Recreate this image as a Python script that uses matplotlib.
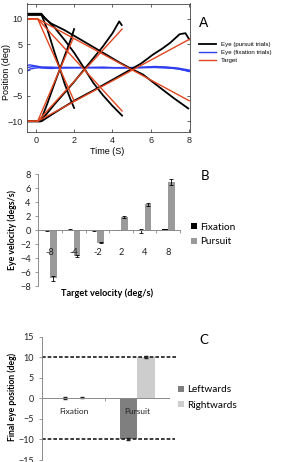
import numpy as np
import matplotlib
matplotlib.use('Agg')
import matplotlib.pyplot as plt
from matplotlib.ticker import FixedLocator

# ---------------- Panel A data ----------------
fix_t = [-0.5, -0.3, 0.0, 0.3, 0.8, 1.5, 2.5, 3.5, 4.5, 5.5, 6.2, 6.8, 7.4, 8.0]
fix1_y = [0.9, 1.0, 0.8, 0.6, 0.5, 0.5, 0.45, 0.5, 0.45, 0.5, 0.7, 0.6, 0.4, 0.0]
fix2_y = [-0.4, 0.2, 0.4, 0.5, 0.55, 0.4, 0.5, 0.4, 0.5, 0.45, 0.5, 0.4, 0.3, -0.3]
fix3_y = [0.4, 0.6, 0.7, 0.4, 0.3, 0.5, 0.5, 0.55, 0.4, 0.55, 0.6, 0.5, 0.2, -0.2]

eye_p8_t = [-0.5, 0.25, 0.6, 1.0, 1.3, 1.6, 1.85, 2.0]
eye_p8_y = [-10.0, -10.0, -6.6, -2.4, 0.6, 3.7, 6.2, 8.0]
eye_m8_t = [-0.5, 0.3, 0.6, 1.0, 1.25, 1.5, 1.8, 2.0]
eye_m8_y = [10.8, 10.8, 8.0, 3.2, 0.4, -2.6, -5.6, -7.4]
eye_p4_t = [-0.5, 0.25, 1.0, 2.0, 2.5, 3.0, 3.5, 4.0, 4.35, 4.48]
eye_p4_y = [-10.0, -10.0, -6.6, -2.3, 0.0, 2.3, 4.6, 7.2, 9.5, 8.8]
eye_m4_t = [-0.5, 0.3, 0.5, 1.0, 1.5, 2.0, 2.5, 3.0, 3.5, 4.0, 4.5]
eye_m4_y = [10.8, 10.8, 10.1, 8.2, 5.9, 3.4, 0.5, -2.5, -4.9, -7.0, -8.9]
eye_p2_t = [-0.5, 0.3, 1.0, 2.0, 3.0, 4.0, 4.9, 5.5, 6.1, 6.6, 7.0, 7.5, 7.8, 8.0]
eye_p2_y = [-10.0, -10.0, -8.3, -6.0, -4.0, -1.9, 0.0, 1.3, 3.0, 4.2, 5.3, 7.0, 7.2, 6.0]
eye_m2_t = [-0.5, 0.3, 0.5, 0.8, 1.5, 2.5, 3.5, 4.4, 4.9, 5.6, 6.5, 7.2, 7.95]
eye_m2_y = [11.0, 11.0, 10.0, 9.1, 7.8, 5.6, 3.4, 1.4, 0.4, -0.9, -3.5, -5.5, -7.5]

tgt_t = [[-0.5, 0.1, 1.93], [-0.5, 0.1, 2.0], [-0.5, 0.1, 4.5],
         [-0.5, 0.1, 4.5], [-0.5, 0.1, 8.0], [-0.5, 0.1, 8.0]]
tgt_y = [[-10, -10, 6.0], [10, 10, -6.0], [-10, -10, 8.0],
         [10, 10, -8.0], [-10, -10, 6.0], [10, 10, -6.0]]

legendA_labels = ['Eye (pursuit trials)', 'Eye (fixation trials)', 'Target']

# ---------------- Panel B data ----------------
vel_labels = ['-8', '-4', '-2', '2', '4', '8']
fix_vel = [-0.1, 0.05, -0.05, -0.02, -0.1, 0.12]
fix_vel_err = [0.05, 0.04, 0.03, 0.03, 0.3, 0.08]
purs_vel = [-6.9, -3.7, -1.8, 1.9, 3.7, 6.9]
purs_vel_err = [0.35, 0.2, 0.1, 0.15, 0.2, 0.4]

# ---------------- Panel C data ----------------
cond_labels = ['Fixation', 'Pursuit']
left_pos = [0.1, -10.0]
left_err = [0.15, 0.25]
right_pos = [0.2, 10.0]
right_err = [0.15, 0.2]
ref_levels = [10, -10]

W, H = 290, 462
fig = plt.figure(figsize=(W / 100, H / 100), dpi=100)


def box(l, t, r, b):
    return [l / W, 1 - b / H, (r - l) / W, (b - t) / H]


# ======================= Panel A =======================
fontA = 'Liberation Sans'
axA = fig.add_axes(box(26.7, 3.5, 190, 132))
blue = '#2f3ff0'
red = '#e2461e'
hbl = None
for yy in (fix1_y, fix2_y, fix3_y):
    hbl, = axA.plot(fix_t, yy, color=blue, lw=1.0)
hb = None
for tt, yy in ((eye_p8_t, eye_p8_y), (eye_m8_t, eye_m8_y), (eye_p4_t, eye_p4_y),
               (eye_m4_t, eye_m4_y), (eye_p2_t, eye_p2_y), (eye_m2_t, eye_m2_y)):
    hb, = axA.plot(tt, yy, color='black', lw=1.3)
hr = None
for tt, yy in zip(tgt_t, tgt_y):
    hr, = axA.plot(tt, yy, color=red, lw=1.0)
axA.set_xlim(-0.47, 8.04)
axA.set_ylim(-12.1, 13.0)
axA.set_xticks([0, 2, 4, 6, 8])
axA.set_yticks([-10, -5, 0, 5, 10])
axA.tick_params(direction='in', top=True, right=True, length=2.5, width=0.5,
                labelsize=6.5, pad=3, colors='#222222')
for lab in axA.get_xticklabels() + axA.get_yticklabels():
    lab.set_family(fontA)
for s in axA.spines.values():
    s.set_color('#444444')
    s.set_linewidth(0.6)
axA.set_xlabel('Time (S)', fontsize=6.5, family=fontA, va='center')
axA.xaxis.set_label_coords(0.492, -0.148)
axA.set_ylabel('Position (deg)', fontsize=6.5, family=fontA, va='center')
axA.yaxis.set_label_coords(-0.121, 0.467)
fig.legend([hb, hbl, hr], legendA_labels, loc='upper left',
           bbox_to_anchor=(199 / W, 1 - 42 / H), frameon=False,
           prop={'family': fontA, 'size': 4.4}, handlelength=2.7,
           handletextpad=0.9, labelspacing=0.45, borderaxespad=0, borderpad=0)
fig.text(203.7 / W, 1 - 23.3 / H, 'A', fontsize=10, family=fontA,
         ha='center', va='center')

# ======================= Panel B =======================
fontB = 'Lato'
axcol = '#8a8a8a'
axB = fig.add_axes(box(38.3, 174, 180, 286))
xb = np.arange(len(vel_labels))
ekw = dict(ecolor='black', elinewidth=0.6, capsize=1.3, capthick=0.6)
axB.bar(xb - 0.14, fix_vel, 0.28, yerr=fix_vel_err, color='black',
        error_kw=ekw, label='Fixation')
axB.bar(xb + 0.14, purs_vel, 0.28, yerr=purs_vel_err, color='#9a9a9a',
        error_kw=ekw, label='Pursuit')
axB.set_xlim(-0.5, len(vel_labels) - 0.5)
axB.set_ylim(-8, 8)
axB.set_yticks(np.arange(-8, 9, 2))
axB.spines['top'].set_visible(False)
axB.spines['right'].set_visible(False)
axB.spines['bottom'].set_position(('data', 0))
for s in ('left', 'bottom'):
    axB.spines[s].set_color(axcol)
    axB.spines[s].set_linewidth(0.7)
axB.set_xticks(xb)
axB.set_xticklabels(vel_labels)
axB.xaxis.set_minor_locator(FixedLocator(np.arange(-0.5, len(vel_labels), 1.0)))
axB.tick_params(axis='x', which='major', length=0, pad=13, labelsize=6.7,
                labelcolor='#222222')
axB.tick_params(axis='x', which='minor', length=2.5, width=0.6, color=axcol,
                direction='out')
axB.tick_params(axis='y', length=2.5, width=0.6, color=axcol, pad=3,
                labelsize=6.7, labelcolor='#222222')
for lab in axB.get_xticklabels() + axB.get_yticklabels():
    lab.set_family(fontB)
axB.set_xlabel('Target velocity (deg/s)', fontsize=6.6, family=fontB,
               fontweight='bold', va='center')
axB.xaxis.set_label_coords(0.485, -0.0625)
axB.set_ylabel('Eye velocity (degs/s)', fontsize=6.3, family=fontB,
               fontweight='bold', va='center')
axB.yaxis.set_label_coords(-0.186, 0.5)
fig.legend(*axB.get_legend_handles_labels(), loc='upper left',
           bbox_to_anchor=(191 / W, 1 - 222.5 / H), frameon=False,
           prop={'family': fontB, 'size': 7.2}, handlelength=0.55,
           handleheight=0.55, handletextpad=0.4, labelspacing=0.6,
           borderaxespad=0, borderpad=0)
fig.text(204.5 / W, 1 - 176 / H, 'B', fontsize=9.5, family=fontB,
         ha='center', va='center')

# ======================= Panel C =======================
axC = fig.add_axes(box(41.7, 336.7, 169, 460))
xc = np.arange(len(cond_labels))
ekwc = dict(ecolor='#222222', elinewidth=1.0, capsize=1.2, capthick=1.0)
axC.bar(xc - 0.1375, left_pos, 0.275, yerr=left_err, color='#7f7f7f',
        error_kw=ekwc, label='Leftwards')
axC.bar(xc + 0.1375, right_pos, 0.275, yerr=right_err, color='#cdcdcd',
        error_kw=ekwc, label='Rightwards')
axC.set_xlim(-0.5, len(cond_labels) - 0.5)
axC.set_ylim(-15, 15)
axC.set_yticks(np.arange(-15, 16, 5))
axC.spines['top'].set_visible(False)
axC.spines['right'].set_visible(False)
axC.spines['bottom'].set_position(('data', 0))
for s in ('left', 'bottom'):
    axC.spines[s].set_color(axcol)
    axC.spines[s].set_linewidth(0.7)
axC.set_xticks(xc)
axC.set_xticklabels(cond_labels)
axC.xaxis.set_minor_locator(FixedLocator([0.5]))
axC.tick_params(axis='x', which='major', length=0, pad=7, labelsize=6.0,
                labelcolor='#222222')
axC.tick_params(axis='x', which='minor', length=2.5, width=0.6, color=axcol,
                direction='out')
axC.tick_params(axis='y', length=2.5, width=0.6, color=axcol, pad=3,
                labelsize=6.5, labelcolor='#222222')
for lab in axC.get_xticklabels() + axC.get_yticklabels():
    lab.set_family(fontB)
axC.axhline(ref_levels[0], xmin=0, xmax=(178 - 41.7) / 127.3, color='#1a1a1a',
            lw=1.2, ls=(0, (2.2, 1.2)), clip_on=False)
axC.axhline(ref_levels[1], xmin=0, xmax=(175 - 41.7) / 127.3, color='#1a1a1a',
            lw=1.2, ls=(0, (2.2, 1.2)), clip_on=False)
axC.set_ylabel('Final eye position (deg)', fontsize=6.2, family=fontB,
               fontweight='bold', va='center')
axC.yaxis.set_label_coords(-0.233, 0.51)
fig.legend(*axC.get_legend_handles_labels(), loc='upper left',
           bbox_to_anchor=(178 / W, 1 - 385.5 / H), frameon=False,
           prop={'family': fontB, 'size': 7.2}, handlelength=0.55,
           handleheight=0.55, handletextpad=0.4, labelspacing=0.6,
           borderaxespad=0, borderpad=0)
fig.text(204 / W, 1 - 340 / H, 'C', fontsize=9.5, family=fontB,
         ha='center', va='center')

fig.savefig('out.png', dpi=100)
